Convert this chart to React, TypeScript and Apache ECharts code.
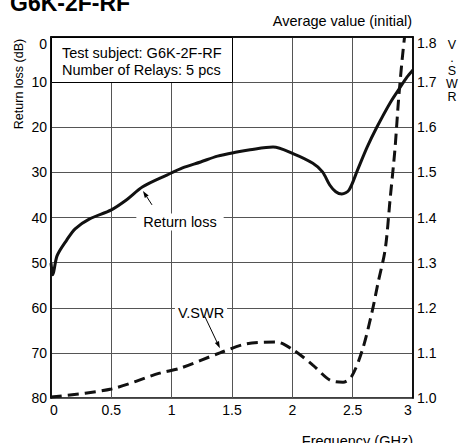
import React, { useEffect, useRef } from "react";
import * as echarts from "echarts";

const FONT = "'Liberation Sans', Arial, Helvetica, sans-serif";

const titleText = "G6K-2F-RF";
const noteText = "Average value (initial)";
const boxLines = ["Test subject: G6K-2F-RF", "Number of Relays: 5 pcs"];

const xTicks = [0, 0.5, 1, 1.5, 2, 2.5, 3];
const rlTicks = [0, 10, 20, 30, 40, 50, 60, 70, 80];
const vswrTicks = [1.0, 1.1, 1.2, 1.3, 1.4, 1.5, 1.6, 1.7, 1.8];

const rlFreq = [0, 0.015, 0.05, 0.13, 0.2, 0.32, 0.5, 0.63, 0.76, 0.96, 1.09, 1.24, 1.38, 1.54, 1.65, 1.84, 2.01, 2.17, 2.25, 2.31, 2.36, 2.41, 2.47, 2.54, 2.62, 2.7, 2.81, 2.89, 2.95, 3.0];
const rlValues = [50.1, 52.7, 48.5, 45, 42.5, 40.3, 38.3, 36, 33.2, 30.6, 29, 27.7, 26.4, 25.5, 25, 24.4, 25.9, 28, 29.9, 32.8, 34.3, 34.8, 33.9, 29.5, 24.4, 20, 14.6, 11.3, 8.9, 7.3];

const vswrFreq = [0, 0.5, 0.9, 1.07, 1.4, 1.62, 1.87, 2.01, 2.17, 2.31, 2.42, 2.49, 2.58, 2.66, 2.71, 2.77, 2.81, 2.85, 2.88, 2.91, 2.93];
const vswrValues = [1.002, 1.02, 1.055, 1.066, 1.1, 1.12, 1.124, 1.106, 1.073, 1.04, 1.035, 1.047, 1.106, 1.19, 1.255, 1.33, 1.44, 1.55, 1.66, 1.75, 1.8];

// annotation arrows (data coordinates)
const rlArrow = [[0.837, 37.2], [0.762, 34.1]];
const vswrArrow = [[1.276, 1.18], [1.4, 1.11]];

function arrow(p0: number[], p1: number[]) {
  const dx = p1[0] - p0[0];
  const dy = p1[1] - p0[1];
  const len = Math.sqrt(dx * dx + dy * dy) || 1;
  const ux = dx / len;
  const uy = dy / len;
  const hl = 7;
  const hw = 2.3;
  const bx = p1[0] - ux * hl;
  const by = p1[1] - uy * hl;
  return [
    {
      type: "line",
      z: 100,
      shape: { x1: p0[0], y1: p0[1], x2: bx, y2: by },
      style: { stroke: "#000", lineWidth: 1 },
    },
    {
      type: "polygon",
      z: 100,
      shape: {
        points: [
          [p1[0], p1[1]],
          [bx - uy * hw, by + ux * hw],
          [bx + uy * hw, by - ux * hw],
        ],
      },
      style: { fill: "#000" },
    },
  ];
}

export default function App() {
  const ref = useRef<HTMLDivElement>(null);
  useEffect(() => {
    document.body.style.margin = "0";
    const chart = echarts.init(ref.current!, null, { renderer: "svg" });
    const gridColor = "#555";
    const graphics: any[] = [
      {
        type: "text",
        x: 10,
        y: 3,
        z: 100,
        style: {
          text: titleText,
          fontFamily: FONT,
          fontSize: 23,
          fontWeight: "bold",
          fill: "#000",
          verticalAlign: "middle",
        },
      },
      {
        type: "text",
        x: 412,
        y: 21,
        z: 100,
        style: {
          text: noteText,
          fontFamily: FONT,
          fontSize: 14.5,
          fill: "#000",
          align: "right",
          verticalAlign: "middle",
        },
      },
      {
        type: "rect",
        z: 100,
        shape: { x: 51.5, y: 37.5, width: 181, height: 45 },
        style: { fill: "#fff", stroke: "#000", lineWidth: 1 },
      },
      {
        type: "text",
        x: 62,
        y: 53,
        z: 101,
        style: {
          text: boxLines[0],
          fontFamily: FONT,
          fontSize: 14.5,
          fill: "#000",
          verticalAlign: "middle",
        },
      },
      {
        type: "text",
        x: 62,
        y: 70,
        z: 101,
        style: {
          text: boxLines[1],
          fontFamily: FONT,
          fontSize: 14.5,
          fill: "#000",
          verticalAlign: "middle",
        },
      },
      {
        type: "text",
        x: 19,
        y: 84,
        rotation: Math.PI / 2,
        z: 100,
        style: {
          text: "Return loss (dB)",
          fontFamily: FONT,
          fontSize: 12.5,
          fill: "#000",
          align: "center",
          verticalAlign: "middle",
        },
      },
      {
        type: "text",
        x: 452,
        y: 38.5,
        z: 100,
        style: {
          text: "V\n.\nS\nW\nR",
          fontFamily: FONT,
          fontSize: 12.5,
          lineHeight: 13,
          fill: "#000",
          align: "center",
          verticalAlign: "top",
        },
      },
      {
        type: "text",
        x: 413,
        y: 441,
        z: 100,
        style: {
          text: "Frequency (GHz)",
          fontFamily: FONT,
          fontSize: 14.5,
          fill: "#000",
          align: "right",
          verticalAlign: "middle",
        },
      },
      {
        type: "text",
        x: 180,
        y: 222,
        z: 100,
        style: {
          text: "Return loss",
          fontFamily: FONT,
          fontSize: 14.5,
          fill: "#000",
          align: "center",
          verticalAlign: "middle",
          backgroundColor: "#fff",
          padding: [1, 7],
        },
      },
      {
        type: "text",
        x: 201,
        y: 313,
        z: 100,
        style: {
          text: "V.SWR",
          fontFamily: FONT,
          fontSize: 14.5,
          fill: "#000",
          align: "center",
          verticalAlign: "middle",
          backgroundColor: "#fff",
          padding: [1, 3],
        },
      },
    ];
    const option: any = {
      animation: false,
      backgroundColor: "#fff",
      textStyle: { fontFamily: FONT },
      grid: {
        left: 51,
        right: 46,
        top: 37,
        bottom: 45,
        show: true,
        borderColor: "#000",
        borderWidth: 1.5,
        backgroundColor: "transparent",
      },
      xAxis: {
        type: "value",
        min: xTicks[0],
        max: xTicks[xTicks.length - 1],
        interval: 0.5,
        axisLine: { show: true, lineStyle: { color: "#000", width: 1.5 } },
        axisTick: { show: false },
        splitLine: { show: true, lineStyle: { color: gridColor, width: 1 } },
        axisLabel: {
          margin: 5,
          fontSize: 14,
          color: "#000",
          fontFamily: FONT,
          formatter: (v: number) =>
            v === 0 ? "{l|0}" : v === 3 ? "{r|3}" : String(v),
          rich: {
            l: { padding: [0, 0, 0, 6], fontSize: 14, fontFamily: FONT },
            r: { padding: [0, 10, 0, 0], fontSize: 14, fontFamily: FONT },
          },
        },
      },
      yAxis: [
        {
          type: "value",
          inverse: true,
          min: rlTicks[0],
          max: rlTicks[rlTicks.length - 1],
          interval: 10,
          position: "left",
          axisLine: { show: true, lineStyle: { color: "#000", width: 1.5 } },
          axisTick: { show: false },
          splitLine: { show: true, lineStyle: { color: gridColor, width: 1 } },
          axisLabel: {
            margin: 4,
            fontSize: 14,
            color: "#000",
            fontFamily: FONT,
            formatter: (v: number) => (v === 0 ? "{t|0}" : String(v)),
            rich: { t: { padding: [13, 0, 0, 0], fontSize: 14, fontFamily: FONT } },
          },
        },
        {
          type: "value",
          min: vswrTicks[0],
          max: vswrTicks[vswrTicks.length - 1],
          interval: 0.1,
          position: "right",
          axisLine: { show: true, lineStyle: { color: "#000", width: 1.5 } },
          axisTick: { show: false },
          splitLine: { show: false },
          axisLabel: {
            margin: 4,
            fontSize: 14,
            color: "#000",
            fontFamily: FONT,
            formatter: (v: number) => {
              const s = v.toFixed(1);
              return Math.abs(v - 1.8) < 1e-6 ? "{t|" + s + "}" : s;
            },
            rich: { t: { padding: [11, 0, 0, 0], fontSize: 14, fontFamily: FONT } },
          },
        },
      ],
      series: [
        {
          name: "Return loss",
          type: "line",
          xAxisIndex: 0,
          yAxisIndex: 0,
          data: rlFreq.map((f, i) => [f, rlValues[i]]),
          showSymbol: false,
          smooth: 0.3,
          lineStyle: { color: "#111", width: 3 },
          z: 5,
        },
        {
          name: "V.SWR",
          type: "line",
          xAxisIndex: 0,
          yAxisIndex: 1,
          data: vswrFreq.map((f, i) => [f, vswrValues[i]]),
          showSymbol: false,
          smooth: 0.3,
          lineStyle: { color: "#111", width: 3, type: [11, 6] },
          z: 5,
        },
      ],
      graphic: graphics,
    };
    chart.setOption(option);
    const rl0 = chart.convertToPixel({ xAxisIndex: 0, yAxisIndex: 0 }, rlArrow[0]) as number[];
    const rl1 = chart.convertToPixel({ xAxisIndex: 0, yAxisIndex: 0 }, rlArrow[1]) as number[];
    const vs0 = chart.convertToPixel({ xAxisIndex: 0, yAxisIndex: 1 }, vswrArrow[0]) as number[];
    const vs1 = chart.convertToPixel({ xAxisIndex: 0, yAxisIndex: 1 }, vswrArrow[1]) as number[];
    chart.setOption({
      graphic: [...graphics, ...arrow(rl0, rl1), ...arrow(vs0, vs1)],
    });
    return () => chart.dispose();
  }, []);
  return <div ref={ref} style={{ width: 459, height: 443 }} />;
}
